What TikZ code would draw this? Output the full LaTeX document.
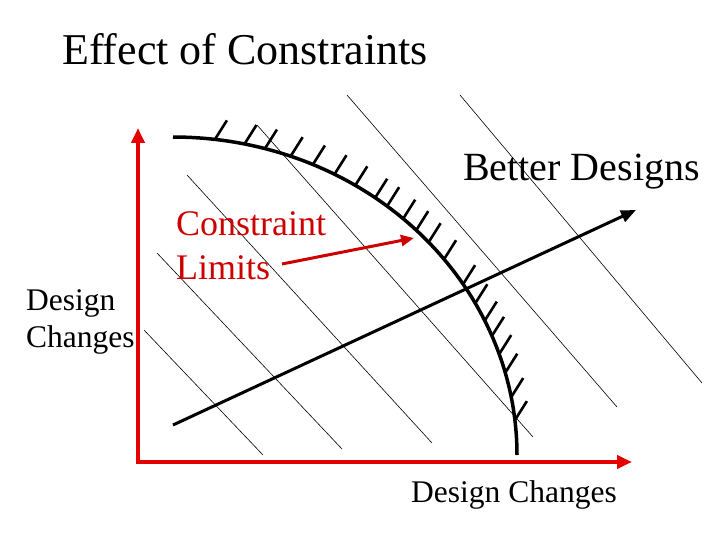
\documentclass[tikz,border=0pt]{standalone}
\usepackage{fontspec}
\setmainfont{Liberation Serif}
\usetikzlibrary{arrows.meta}
\definecolor{axisred}{RGB}{228,0,0}
\definecolor{labelred}{RGB}{204,0,0}
\begin{document}
\begin{tikzpicture}[x=1pt,y=-1pt,
    axis/.style={axisred,line width=4.5pt,{Triangle[length=15pt,width=13pt]}-{Triangle[length=15pt,width=13pt]}},
    contour/.style={line width=0.6pt},
    hatch/.style={line width=2.6pt},
    txt/.style={inner sep=0pt,anchor=base west}]
    \useasboundingbox (0,0) rectangle (720,540);
    \node[txt,font=\fontsize{44}{50}\selectfont] (title) at (62,65) {Effect of Constraints};
    % lines of equal merit
    \foreach \xa/\ya/\xb/\yb in {460/95/702/383, 347/95/617/407, 257/125/533/437,
        187/175/432/443, 157/253/342/449, 144/330/263/455}
        \draw[contour] (\xa,\ya) -- (\xb,\yb);
    % constraint boundary with hatching
    \draw[line width=3.5pt] plot[domain=0:90,samples=50,smooth]
        ({173+344*cos(\x)},{455-318*sin(\x)});
    \foreach \t in {6.3,10.5,15,18.5,22,25,28.5,32.5,38,42,45,48,51.5,54,58,62,66,70,74.5,78,83}
        \draw[hatch] ({173+344*cos(\t)},{455-318*sin(\t)}) -- ++(12,-19);
    % axes
    \coordinate (O) at (138,462);
    \coordinate (ytip) at (138,128);
    \coordinate (xtip) at (632,462);
    \draw[axis] (ytip) -- (O) -- (xtip);
    \node[txt,font=\fontsize{31.5}{37}\selectfont] (ylab1) at (26,310) {Design};
    \node[txt,font=\fontsize{31.5}{37}\selectfont] (ylab2) at (26,347) {Changes};
    \node[txt,font=\fontsize{31.5}{37}\selectfont] (xlab) at (411,502) {Design Changes};
    % direction of better designs
    \coordinate (bstart) at (173,425);
    \coordinate (bend) at (636,210);
    \draw[line width=3pt,-{Triangle[length=15pt,width=12pt]}] (bstart) -- (bend);
    \node[txt,font=\fontsize{40}{46}\selectfont] (better) at (463,181) {Better Designs};
    \node[txt,labelred,font=\fontsize{36}{43}\selectfont] (constraint) at (176,236) {Constraint};
    \node[txt,labelred,font=\fontsize{36}{43}\selectfont] (limits) at (176,279) {Limits};
    \coordinate (lstart) at (282,264);
    \coordinate (lend) at (414,238);
    \draw[labelred,line width=3pt,-{Triangle[length=13pt,width=11pt]}] (lstart) -- (lend);
\end{tikzpicture}
\end{document}
